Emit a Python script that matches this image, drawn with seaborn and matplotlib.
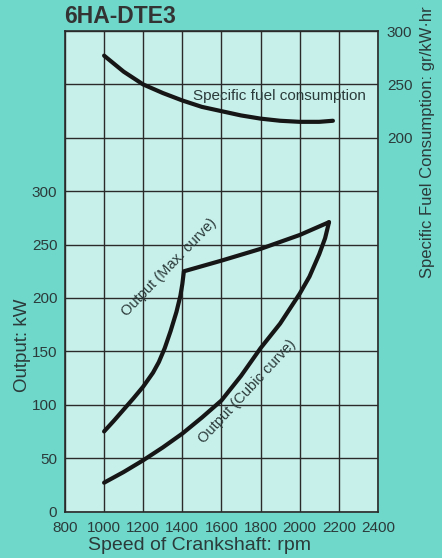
import seaborn as sns
import matplotlib.pyplot as plt
import pandas as pd

# Values
rpm_max = [1000, 1050, 1100, 1150, 1200, 1250, 1280, 1310, 1340, 1370, 1390, 1400, 1408,
           1600, 1800, 2000, 2150]
kw_max = [75, 85, 95.5, 106, 117, 130, 140, 153, 169, 187, 202, 213, 225,
          235, 246, 259, 271]

rpm_cubic = [1000, 1100, 1200, 1300, 1400, 1500, 1600, 1700, 1800, 1900, 2000, 2050, 2100, 2130, 2150]
kw_cubic = [27, 37, 48, 60, 73, 88, 104, 127, 153, 176, 204, 220, 241, 256, 271]

rpm_fuel = [1000, 1100, 1200, 1300, 1400, 1500, 1600, 1700, 1800, 1900, 2000, 2100, 2170]
sfc_fuel = [277, 262, 250, 242, 235, 229, 225, 221, 218, 216, 215, 215, 216]

x_ticks = [800, 1000, 1200, 1400, 1600, 1800, 2000, 2200, 2400]
kw_ticks = [0, 50, 100, 150, 200, 250, 300]
sfc_ticks = [200, 250, 300]

outer_bg = '#70d7cb'
inner_bg = '#c8f0eb'
ink = '#2b3b3a'
line_col = '#161616'

sns.set_style('white')
plt.rcParams['font.family'] = ['Liberation Sans', 'DejaVu Sans']

fig = plt.figure(figsize=(4.42, 5.58), dpi=100, facecolor=outer_bg)
ax = fig.add_axes([0.147, 0.0833, 0.708, 0.861])
ax.set_facecolor(inner_bg)

df_max = pd.DataFrame({'rpm': rpm_max, 'kw': kw_max})
df_cubic = pd.DataFrame({'rpm': rpm_cubic, 'kw': kw_cubic})
df_fuel = pd.DataFrame({'rpm': rpm_fuel, 'sfc': sfc_fuel})

sns.lineplot(data=df_max, x='rpm', y='kw', ax=ax, color=line_col, linewidth=3.0, estimator=None)
sns.lineplot(data=df_cubic, x='rpm', y='kw', ax=ax, color=line_col, linewidth=3.0, estimator=None)

ax.set_xlim(800, 2400)
ax.set_ylim(0, 450)
ax.set_xticks(x_ticks)
ax.set_xticklabels([str(t) for t in x_ticks])
grid_y = list(range(0, 451, 50))
ax.set_yticks(grid_y)
ax.set_yticklabels([str(t) if t in kw_ticks else '' for t in grid_y])
ax.grid(True, color='#2a2a2a', linewidth=1.0)
ax.tick_params(length=0, labelsize=11, colors=ink)
ax.tick_params(axis='x', pad=7)
ax.tick_params(axis='y', pad=5.5)
ax.set_xlabel('Speed of Crankshaft: rpm', fontsize=14, color=ink)
ax.xaxis.set_label_coords(0.431, -0.053, transform=ax.transAxes)
ax.xaxis.label.set_va('top')
ax.set_ylabel('')
for s in ax.spines.values():
    s.set_color('#2a2a2a')
    s.set_linewidth(1.2)

# right axis for the fuel consumption
ax2 = ax.twinx()
sns.lineplot(data=df_fuel, x='rpm', y='sfc', ax=ax2, color=line_col, linewidth=3.0, estimator=None)
ax2.set_ylim(-150, 300)
ax2.set_yticks(sfc_ticks)
ax2.set_yticklabels([str(t) for t in sfc_ticks])
ax2.tick_params(length=0, labelsize=11, colors=ink, pad=6.5)
ax2.set_ylabel('')
ax2.grid(False)
for s in ax2.spines.values():
    s.set_visible(False)

# labels
fig.text(0.145, 0.971, '6HA-DTE3', fontsize=16.5, fontweight='bold', color='#333333', va='center', ha='left')
fig.text(0.052, 1 - 345 / 558, 'Output: kW', rotation=90, fontsize=13.5, color=ink, va='center', ha='center')
fig.text(0.968, 1 - 142 / 558, 'Specific Fuel Consumption: gr/kW·hr', rotation=90, fontsize=12,
         color=ink, va='center', ha='center')

ax.text(1894, 385, 'Specific fuel consumption', fontsize=11, color=ink, ha='center', va='baseline')
ax.text(1330, 229, 'Output (Max. curve)', fontsize=10.5, color=ink, ha='center', va='center',
        rotation=46, rotation_mode='anchor')
ax.text(1730, 112, 'Output (Cubic curve)', fontsize=10.5, color=ink, ha='center', va='center',
        rotation=47, rotation_mode='anchor')

plt.savefig('out.png', dpi=100, facecolor=outer_bg)
